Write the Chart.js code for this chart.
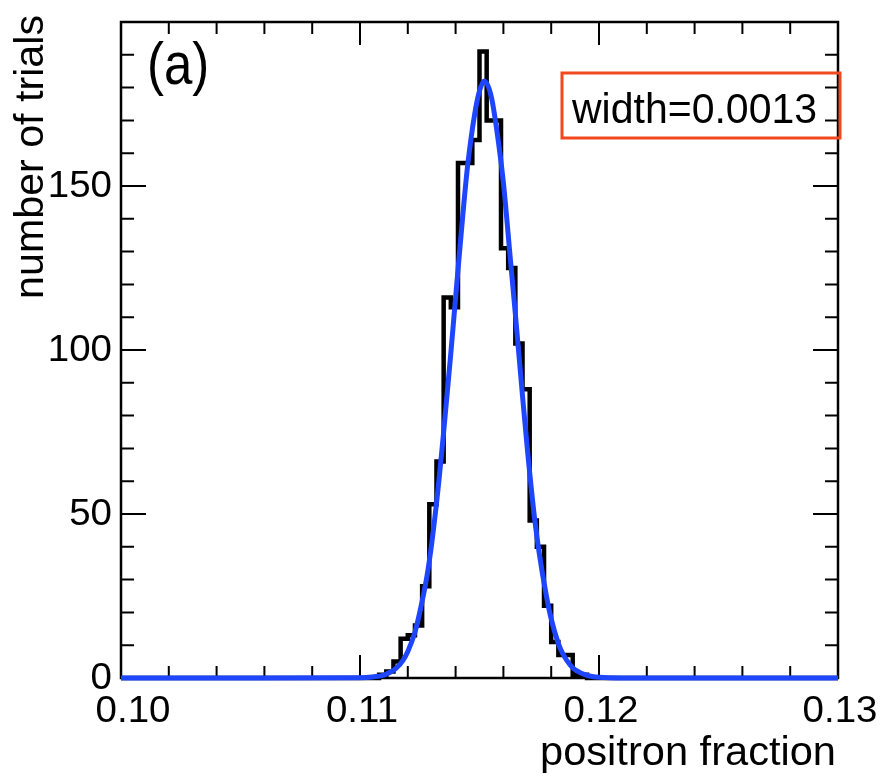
<!DOCTYPE html>
<html>
<head>
<meta charset="utf-8">
<script src="https://cdn.jsdelivr.net/npm/chart.js@4.4.0/dist/chart.umd.min.js"></script>
<style>
  html, body { margin: 0; padding: 0; background: #fff; }
  canvas { display: block; }
</style>
</head>
<body>
<canvas id="chart" width="883" height="778"></canvas>
<script>
// histogram: 100 bins of 0.0003 between 0.10 and 0.13
const histStart = 0.10;
const binWidth = 0.0003;
const counts = [
  0, 0, 0, 0, 0, 0, 0, 0, 0, 0,
  0, 0, 0, 0, 0, 0, 0, 0, 0, 0,
  0, 0, 0, 0, 0, 0, 0, 0, 0, 0,
  0, 0, 0, 0, 0, 0, 1, 2, 5, 12,
  13, 16, 28, 53, 66, 116, 113, 157, 157, 164,
  191, 170, 170, 131, 125, 102, 88, 48, 40, 22,
  11, 7, 7, 1, 1, 0, 0, 0, 0, 0,
  0, 0, 0, 0, 0, 0, 0, 0, 0, 0,
  0, 0, 0, 0, 0, 0, 0, 0, 0, 0,
  0, 0, 0, 0, 0, 0, 0, 0, 0, 0
];

// gaussian fit curve
const fitX = [0.100, 0.105, 0.1100, 0.1105, 0.1110, 0.1113, 0.1115, 0.1118, 0.1120, 0.1123, 0.1125,
  0.1128, 0.1130, 0.1133, 0.1135, 0.1138, 0.1140, 0.1143, 0.1145, 0.1148, 0.1150, 0.1152,
  0.1155, 0.1158, 0.1160, 0.1163, 0.1165, 0.1168, 0.1170, 0.1173, 0.1175, 0.1178, 0.1180,
  0.1183, 0.1185, 0.1188, 0.1190, 0.1195, 0.1200, 0.1210, 0.125, 0.130];
const fitY = [0, 0, 0.1, 0.3, 0.9, 1.9, 2.9, 5.4, 8.1, 14, 20,
  31, 41, 60, 75, 99, 116, 141, 156, 172, 179, 182,
  177, 163, 151, 127, 111, 86, 70, 49, 38, 25, 18,
  10.5, 7.2, 3.9, 2.5, 0.8, 0.2, 0, 0, 0];

const xMajorTicks = [0.10, 0.11, 0.12, 0.13];
const xTickLabels = ['0.10', '0.11', '0.12', '0.13'];
const yMajorTicks = [0, 50, 100, 150];
const yTickLabels = ['0', '50', '100', '150'];
const xTitle = 'positron fraction';
const yTitle = 'number of trials';
const panelLabel = '(a)';
const widthLabel = 'width=0.0013';

const FONT = '"Liberation Sans", Arial, Helvetica, sans-serif';

const histPoints = counts.map((c, i) => ({x: +(histStart + i * binWidth).toFixed(5), y: c}));
histPoints.push({x: +(histStart + counts.length * binWidth).toFixed(5), y: 0});
const fitPoints = fitX.map((x, i) => ({x: x, y: fitY[i]}));

function drawText(ctx, str, x, y, size, align, base, sx, sy) {
  ctx.save();
  ctx.translate(x, y);
  ctx.scale(sx || 1, sy || 1);
  ctx.font = size + 'px ' + FONT;
  ctx.textAlign = align;
  ctx.textBaseline = base;
  ctx.fillStyle = '#000';
  ctx.fillText(str, 0, 0);
  ctx.restore();
}

const framePlugin = {
  id: 'rootFrame',
  beforeDatasetsDraw(chart) {
    const {ctx, chartArea: a, scales: {x, y}} = chart;
    ctx.save();
    ctx.strokeStyle = '#000';
    ctx.lineWidth = 2.5;
    ctx.strokeRect(a.left, a.top, a.right - a.left, a.bottom - a.top);
    ctx.lineWidth = 2;
    ctx.beginPath();
    // x ticks, bottom and top
    for (let v = 0.10; v <= 0.1300001; v += 0.002) {
      const px = x.getPixelForValue(v);
      const major = xMajorTicks.some(t => Math.abs(t - v) < 1e-6);
      const len = major ? 23 : 12;
      ctx.moveTo(px, a.bottom); ctx.lineTo(px, a.bottom - len);
      ctx.moveTo(px, a.top); ctx.lineTo(px, a.top + len);
    }
    // y ticks, left and right
    for (let v = 0; v <= 200; v += 10) {
      const py = y.getPixelForValue(v);
      const major = yMajorTicks.includes(v);
      const len = major ? 25 : 13;
      ctx.moveTo(a.left, py); ctx.lineTo(a.left + len, py);
      ctx.moveTo(a.right, py); ctx.lineTo(a.right - len, py);
    }
    ctx.stroke();
    ctx.restore();
  },
  afterDraw(chart) {
    const {ctx, chartArea: a, scales: {x, y}} = chart;
    xMajorTicks.forEach((v, i) => {
      const dx = i === 0 ? 12 : 2;
      drawText(ctx, xTickLabels[i], x.getPixelForValue(v) + dx, a.bottom + 15, 35, 'center', 'top', 1.1, 1.08);
    });
    yMajorTicks.forEach((v, i) => {
      drawText(ctx, yTickLabels[i], a.left - 9, y.getPixelForValue(v) + 1, 35, 'right', 'middle', 1.1, 1.08);
    });
    drawText(ctx, xTitle, a.right - 2, 765, 40, 'right', 'alphabetic', 1.04, 1);
    ctx.save();
    ctx.translate(43, 15);
    ctx.rotate(-Math.PI / 2);
    drawText(ctx, yTitle, 0, 0, 40, 'right', 'alphabetic', 1.03, 1);
    ctx.restore();
    drawText(ctx, panelLabel, 147, 84, 52, 'left', 'alphabetic', 0.98, 1.15);
    // width box
    ctx.save();
    ctx.strokeStyle = '#f2481f';
    ctx.lineWidth = 3;
    ctx.strokeRect(562, 73, 278, 65);
    ctx.restore();
    drawText(ctx, widthLabel, 572, 123, 41, 'left', 'alphabetic', 1.0, 1.03);
  }
};

new Chart(document.getElementById('chart'), {
  type: 'line',
  data: {
    datasets: [
      {
        label: 'fit',
        data: fitPoints,
        borderColor: '#1f46ff',
        borderWidth: 5,
        pointRadius: 0,
        fill: false,
        cubicInterpolationMode: 'monotone',
        clip: false
      },
      {
        label: 'trials',
        data: histPoints,
        borderColor: '#000',
        borderWidth: 4.5,
        pointRadius: 0,
        fill: false,
        stepped: 'before',
        clip: false
      }
    ]
  },
  options: {
    responsive: false,
    animation: false,
    devicePixelRatio: 1,
    layout: {padding: {left: 121, right: 45, top: 22, bottom: 100}},
    plugins: {legend: {display: false}, tooltip: {enabled: false}},
    scales: {
      x: {type: 'linear', min: 0.10, max: 0.13, display: false},
      y: {type: 'linear', min: 0, max: 200, display: false}
    }
  },
  plugins: [framePlugin]
});
</script>
</body>
</html>
